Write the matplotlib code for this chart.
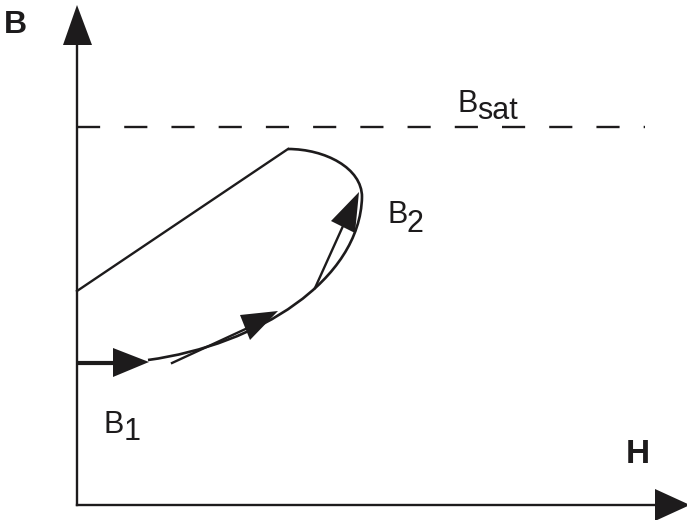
import matplotlib.pyplot as plt
from matplotlib.patches import Polygon, PathPatch
from matplotlib.path import Path

# schematic B-H sketch, coordinates in picture units (x right, y down)
ink = '#1d1b1c'

# axes
axis_origin = (77, 505)
b_axis_top = 45
h_axis_end = 655
b_head = [(77, 5), (63, 45), (92, 45)]
h_head = [(655, 489), (655, 521), (690, 505)]

# saturation level
b_sat = 127
sat_x = [77, 645]

# loop
upper_line_h = [77, 288]
upper_line_b = [291, 149]
arc_ctrl = [(362, 197), (362, 168), (325, 149), (288, 149)]
rise_ctrl = [(148, 360), (258, 345), (360, 280), (362, 197)]

# arrows along the path: (shaft start, shaft end, head)
start_shaft = [(77, 363), (113, 363)]
start_head = [(113, 348), (113, 377), (149, 362)]
mid_shaft = [(172, 363), (252, 326)]
mid_head = [(240, 315), (250, 340), (278, 311)]
top_shaft = [(315, 288), (343, 226)]
top_head = [(359, 192), (331, 221), (355, 233)]

# labels: (text, x, baseline, subscript, sub x, sub baseline)
labels = [('B', 458, 112, 'sat', 477, 119),
          ('B', 387, 223, '2', 407, 232),
          ('B', 103, 433, '1', 124, 440)]

fig = plt.figure(figsize=(6.87, 5.2), dpi=100)
ax = fig.add_axes([0, 0, 1, 1])
ax.set_xlim(0, 687)
ax.set_ylim(520, 0)
ax.axis('off')

lw = 1.7
ax.plot([axis_origin[0], axis_origin[0]], [axis_origin[1], b_axis_top], color=ink, lw=lw)
ax.plot([axis_origin[0], h_axis_end], [axis_origin[1], axis_origin[1]], color=ink, lw=lw)
for head in [b_head, h_head]:
    ax.add_patch(Polygon(head, closed=True, color=ink, lw=0))

ax.plot(sat_x, [b_sat, b_sat], color=ink, lw=lw, dashes=(9.8, 10.2))

ax.plot(upper_line_h, upper_line_b, color=ink, lw=lw)
for ctrl in [arc_ctrl, rise_ctrl]:
    p = Path(ctrl, [Path.MOVETO, Path.CURVE4, Path.CURVE4, Path.CURVE4])
    ax.add_patch(PathPatch(p, fill=False, edgecolor=ink, lw=lw + 0.2))

ax.plot(*zip(*start_shaft), color=ink, lw=3, solid_capstyle='butt')
ax.plot(*zip(*mid_shaft), color=ink, lw=lw)
ax.plot(*zip(*top_shaft), color=ink, lw=lw)
for head in [start_head, mid_head, top_head]:
    ax.add_patch(Polygon(head, closed=True, color=ink, lw=0))

font = 'Liberation Sans'
ax.text(4, 33, 'B', fontsize=23, fontweight='bold', family=font, color=ink, va='baseline')
ax.text(626, 463, 'H', fontsize=24, fontweight='bold', family=font, color=ink, va='baseline')
for main, x, y, sub, sx, sy in labels:
    ax.text(x, y, main, fontsize=22, family=font, color=ink, va='baseline')
    ax.text(sx, sy, sub, fontsize=22, family=font, color=ink, va='baseline')

fig.savefig('out.png', dpi=100)
